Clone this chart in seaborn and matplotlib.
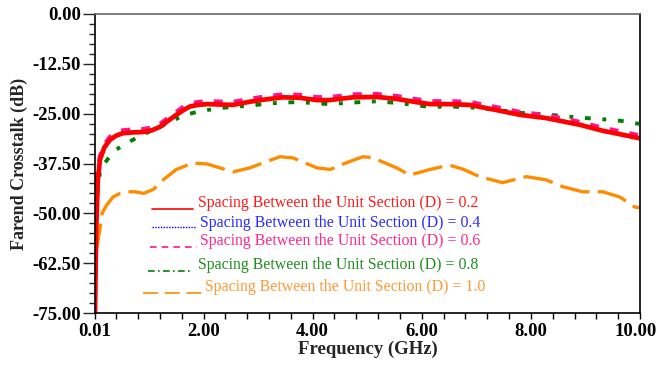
import seaborn as sns
import matplotlib.pyplot as plt
import matplotlib.lines as mlines
import matplotlib.transforms as mtrans
import pandas as pd

freq = [0.01, 0.03, 0.06, 0.1, 0.18, 0.28, 0.4, 0.52, 0.7, 0.89, 1.05, 1.2, 1.35, 1.5, 1.62, 1.75, 1.9, 2.06,
        2.3, 2.54, 2.85, 3.15, 3.45, 3.75, 4.08, 4.3, 4.74, 5.17, 5.54, 5.85, 6.15, 6.5, 6.88, 7.37, 7.8, 8.28,
        8.9, 9.32, 9.65, 10.0]
d02 = [-75, -55, -42, -36.6, -33.5, -31.6, -30.5, -29.9, -29.7, -29.6, -29.2, -28.3, -26.8, -25.3, -24.2, -23.2,
       -22.8, -22.6, -22.7, -22.8, -22.0, -21.4, -20.9, -21.0, -21.6, -21.6, -20.9, -20.8, -21.3, -22.0, -22.6,
       -22.6, -22.8, -24.1, -25.3, -26.1, -27.8, -29.3, -30.2, -31.2]
d04 = [-75, -55, -42, -36.5, -33.4, -31.5, -30.4, -29.8, -29.6, -29.5, -29.1, -28.2, -26.7, -25.2, -24.1, -23.1,
       -22.7, -22.5, -22.6, -22.7, -21.9, -21.3, -20.8, -20.9, -21.5, -21.5, -20.8, -20.7, -21.2, -21.9, -22.5,
       -22.5, -22.7, -24.0, -25.2, -26.0, -27.7, -29.2, -30.1, -31.1]
d06 = [-62, -48, -40, -35.8, -32.8, -30.9, -29.8, -29.2, -29.0, -28.9, -28.5, -27.6, -26.1, -24.6, -23.4, -22.5,
       -22.1, -21.9, -22.0, -22.1, -21.3, -20.7, -20.2, -20.3, -20.9, -20.9, -20.2, -20.1, -20.6, -21.3, -21.9,
       -21.9, -22.1, -23.4, -24.6, -25.4, -27.1, -28.6, -29.5, -30.5]
d08 = [-70, -52, -43, -40, -37.5, -35.8, -34.0, -33.0, -31.6, -30.2, -29.3, -28.4, -27.2, -26.3, -25.6, -25.0,
       -24.5, -24.1, -23.6, -23.3, -23.0, -22.5, -22.2, -22.1, -22.4, -22.6, -22.2, -21.9, -22.3, -22.8, -23.3,
       -23.2, -23.4, -24.0, -24.8, -25.2, -26.0, -26.4, -26.8, -27.6]

freq10 = [0.02, 0.05, 0.1, 0.14, 0.22, 0.34, 0.47, 0.6, 0.75, 0.9, 1.08, 1.26, 1.5, 1.8, 2.06, 2.3, 2.54, 2.85,
          3.16, 3.4, 3.64, 3.85, 4.08, 4.32, 4.6, 4.92, 5.08, 5.3, 5.54, 5.78, 6.15, 6.5, 6.75, 7.06, 7.48, 7.92,
          8.28, 8.58, 8.95, 9.32, 9.63, 9.9, 10.0]
d10 = [-60, -58, -54, -50, -48, -45.9, -45.0, -44.6, -44.6, -45.0, -44.0, -41.6, -39.0, -37.4, -37.6, -38.6,
       -39.6, -38.6, -37.0, -35.8, -36.1, -37.3, -38.6, -39.0, -37.4, -35.8, -36.0, -37.2, -38.6, -40.4, -39.0,
       -37.9, -38.9, -40.8, -42.3, -40.8, -41.6, -43.3, -44.6, -44.6, -45.9, -48.4, -48.6]

labels = ["Spacing Between the Unit Section (D) = 0.2",
          "Spacing Between the Unit Section (D) = 0.4",
          "Spacing Between the Unit Section (D) = 0.6",
          "Spacing Between the Unit Section (D) = 0.8",
          "Spacing Between the Unit Section (D) = 1.0"]

sns.set_style("ticks")
plt.rcParams['font.family'] = ['Liberation Serif', 'DejaVu Serif']

fig = plt.figure(figsize=(6.59, 3.73), dpi=100)
ax = fig.add_axes([95 / 659, 1 - 313 / 373, 545 / 659, 299 / 373])

df = pd.DataFrame({"f": freq, "d02": d02, "d04": d04, "d06": d06, "d08": d08})
df10 = pd.DataFrame({"f": freq10, "d10": d10})

sns.lineplot(data=df, x="f", y="d04", ax=ax, color="#0000ff", lw=1.2, linestyle=":")
sns.lineplot(data=df, x="f", y="d08", ax=ax, color="#008000", lw=2.8)
ax.lines[-1].set_dashes((1.5, 3.0, 1, 3.0))
sns.lineplot(data=df10, x="f", y="d10", ax=ax, color="#ff8c00", lw=2.4)
ax.lines[-1].set_dashes((9, 2.5))
sns.lineplot(data=df, x="f", y="d06", ax=ax, color="#ff1493", lw=3.2)
ax.lines[-1].set_dashes((2, 2.5))
sns.lineplot(data=df, x="f", y="d02", ax=ax, color="#ff0000", lw=3.4)

ax.set_xlim(0.01, 10)
ax.set_ylim(-75, 0)
ax.set_xticks([0.01, 2, 4, 6, 8, 10])
ax.set_xticklabels(["0.01", "2.00", "4.00", "6.00", "8.00", "10.00"])
ax.set_xticks([0.4 * i for i in range(1, 25) if i % 5 != 0], minor=True)
ax.set_yticks([-75, -62.5, -50, -37.5, -25, -12.5, 0])
ax.set_yticklabels(["-75.00", "-62.50", "-50.00", "-37.50", "-25.00", "-12.50", "0.00"])
ax.set_yticks([-75 + 2.5 * i for i in range(31) if i % 5 != 0], minor=True)

ax.tick_params(axis="x", which="both", length=4, width=1, direction="out", colors="black", pad=3)
ax.tick_params(axis="y", which="major", length=9, width=1, direction="out", pad=1)
ax.tick_params(axis="y", which="minor", length=4, width=1, direction="out")
for lab in ax.get_xticklabels() + ax.get_yticklabels():
    lab.set_fontweight("bold")
    lab.set_fontsize(13.5)
    lab.set_color("black")
# nudge the last x label so it stays inside the figure
last = ax.get_xticklabels()[-1]
last.set_transform(last.get_transform() + mtrans.ScaledTranslation(-4 / 100, 0, fig.dpi_scale_trans))

for s in ["left", "bottom", "right"]:
    ax.spines[s].set_color("black")
    ax.spines[s].set_linewidth(1.2)
ax.spines["top"].set_color("#666666")
ax.spines["top"].set_linewidth(1.2)

ax.set_xlabel("Frequency (GHz)", fontsize=13.5, fontweight="bold", labelpad=1)
ax.set_ylabel("Farend Crosstalk (dB)", fontsize=13, fontweight="bold", labelpad=3)

# hand-made legend: sample line + coloured text
text_colors = ["#ff1a1a", "#2b2bff", "#ff2a8a", "#1f8f1f", "#ff9a33"]
line_colors = ["#ff0000", "#0000ff", "#ff1493", "#008000", "#ff8c00"]
rows_y = [203, 223, 241, 265, 287]
line_y = [209, 227, 247, 271, 293]
text_x = [198, 200, 200, 198, 205]
line_x = [(152, 193), (152, 195), (150, 197), (148, 193), (143, 202)]
styles = [(None, 1.2), ((0, (1, 1)), 1.0), ((0, (4, 3)), 1.2), ((0, (4, 2, 1, 2)), 1.2), ((0, (9, 4)), 1.2)]
for i in range(5):
    ls, lw = styles[i]
    ln = mlines.Line2D([line_x[i][0] / 659, line_x[i][1] / 659], [1 - line_y[i] / 373] * 2,
                       transform=fig.transFigure, color=line_colors[i], lw=lw,
                       linestyle=ls if ls else "-")
    fig.add_artist(ln)
    fig.text(text_x[i] / 659, 1 - rows_y[i] / 373, labels[i], color=text_colors[i],
             fontsize=11.4, va="center", ha="left")

fig.savefig("out.png", dpi=100)
